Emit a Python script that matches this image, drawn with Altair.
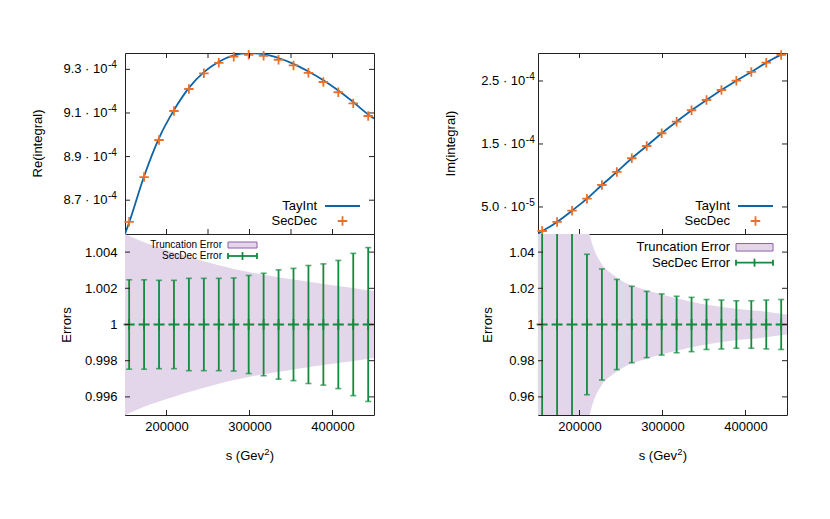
import altair as alt
import pandas as pd

# ---------------- data ----------------
s_points = [155000, 173000, 191000, 209000, 227000, 245000, 263000, 281000, 299000,
            317000, 335000, 353000, 371000, 389000, 407000, 425000, 443000]
re_secdec = [8.601e-4, 8.806e-4, 8.976e-4, 9.109e-4, 9.210e-4, 9.282e-4, 9.330e-4, 9.358e-4, 9.367e-4,
             9.362e-4, 9.344e-4, 9.318e-4, 9.284e-4, 9.242e-4, 9.195e-4, 9.144e-4, 9.086e-4]
im_secdec = [0.119e-4, 0.262e-4, 0.441e-4, 0.632e-4, 0.849e-4, 1.056e-4, 1.273e-4, 1.468e-4, 1.670e-4,
             1.854e-4, 2.035e-4, 2.198e-4, 2.357e-4, 2.505e-4, 2.643e-4, 2.790e-4, 2.913e-4]

s_line = [150000, 155000, 173000, 191000, 209000, 227000, 245000, 263000, 281000, 299000,
          317000, 335000, 353000, 371000, 389000, 407000, 425000, 443000, 450000]
re_tayint = [8.545e-4, 8.598e-4, 8.810e-4, 8.985e-4, 9.113e-4, 9.215e-4, 9.287e-4, 9.335e-4, 9.364e-4, 9.374e-4,
             9.370e-4, 9.352e-4, 9.325e-4, 9.290e-4, 9.250e-4, 9.203e-4, 9.150e-4, 9.093e-4, 9.075e-4]
im_tayint = [0.075e-4, 0.115e-4, 0.262e-4, 0.441e-4, 0.632e-4, 0.849e-4, 1.056e-4, 1.273e-4, 1.468e-4, 1.670e-4,
             1.854e-4, 2.035e-4, 2.198e-4, 2.357e-4, 2.505e-4, 2.643e-4, 2.790e-4, 2.913e-4, 2.944e-4]

err_re_secdec = [0.00247, 0.00247, 0.00244, 0.00244, 0.00255, 0.00255, 0.00255, 0.00257, 0.00271,
                 0.00283, 0.00302, 0.00310, 0.00326, 0.00335, 0.00354, 0.00393, 0.00425]
err_im_secdec = [0.150, 0.100, 0.070, 0.0388, 0.0307, 0.0249, 0.0211, 0.0183, 0.0169,
                 0.0156, 0.0150, 0.0138, 0.0135, 0.0131, 0.0131, 0.0135, 0.0138]

s_band_re = [150000, 173000, 191000, 209000, 227000, 245000, 263000, 281000, 299000,
             317000, 335000, 353000, 371000, 389000, 407000, 425000, 443000, 450000]
trunc_re = [0.00500, 0.00454, 0.00425, 0.00399, 0.00373, 0.00349, 0.00327, 0.00307, 0.00290,
            0.00275, 0.00261, 0.00248, 0.00236, 0.00224, 0.00213, 0.00202, 0.00189, 0.00185]
s_band_im = [150000, 190000, 205000, 212000, 218000, 226000, 242000, 258000, 280000,
             299000, 320000, 339000, 360000, 379000, 400000, 419000, 435000, 450000]
trunc_im = [0.300, 0.100, 0.065, 0.050, 0.041, 0.034, 0.027, 0.0225, 0.019,
            0.0166, 0.0142, 0.0122, 0.0105, 0.0092, 0.0082, 0.0074, 0.0064, 0.0055]

x_ticks = [200000, 300000, 400000]
x_ticks_re_top = [200000, 250000, 300000, 350000, 400000]
re_ticks = [8.7e-4, 8.9e-4, 9.1e-4, 9.3e-4]
im_ticks = [5.0e-5, 1.5e-4, 2.5e-4]
err_re_ticks = [0.996, 0.998, 1.0, 1.002, 1.004]
err_im_ticks = [0.96, 0.98, 1.0, 1.02, 1.04]

legend_top = ["TayInt", "SecDec"]
legend_bottom = ["Truncation Error", "SecDec Error"]
y_titles = ["Re(integral)", "Im(integral)", "Errors"]
x_title_parts = ["s (Gev", "2", ")"]

# ---------------- style ----------------
W, H = 249, 181
TICK = 5
FONT = "Liberation Sans"
BLUE = "#0e64a6"
ORANGE = "#e8702a"
GREEN = "#138a3e"
BAND = "#e3d5ea"
BAND_EDGE = "#9060a8"
FRAME = "#222222"
PLUS = "M-1,0L1,0M0,-1L0,1"

x_dom = [150000, 450000]
xscale = alt.Scale(domain=x_dom, nice=False, zero=False)


def tick_layers(xticks, yticks, yscale, yaxis, xaxis, top=True):
    dx = pd.DataFrame({"v": xticks})
    dy = pd.DataFrame({"v": yticks})
    xs = alt.X("v:Q", scale=xscale, axis=xaxis)
    ys = alt.Y("v:Q", scale=yscale, axis=yaxis)
    layers = [
        alt.Chart(dy).mark_rule(color=FRAME, strokeWidth=1).encode(y=ys, x=alt.value(0), x2=alt.value(TICK)),
        alt.Chart(dy).mark_rule(color=FRAME, strokeWidth=1).encode(y=ys, x=alt.value(W), x2=alt.value(W - TICK)),
        alt.Chart(dx).mark_rule(color=FRAME, strokeWidth=1).encode(x=xs, y=alt.value(H), y2=alt.value(H - TICK)),
    ]
    if top:
        layers.append(alt.Chart(dx).mark_rule(color=FRAME, strokeWidth=1).encode(x=xs, y=alt.value(0), y2=alt.value(TICK)))
    return layers


def label(text, x, y, size, align="right", angle=0, dy=0):
    return alt.Chart(pd.DataFrame({"t": [text]})).mark_text(
        align=align, baseline="middle", font=FONT, fontSize=size, color="black", angle=angle, dy=dy
    ).encode(x=alt.value(x), y=alt.value(y), text="t:N")


def one():
    return alt.Chart(pd.DataFrame({"k": [0]}))


def top_panel(tay, sec, ydom, yticks, ytitle, exp_of, exp_x, xt):
    yscale = alt.Scale(domain=ydom, nice=False, zero=False)
    yaxis = None
    dl = pd.DataFrame({"s": s_line, "v": tay})
    dp = pd.DataFrame({"s": s_points, "v": sec})
    line = alt.Chart(dl).mark_line(color=BLUE, strokeWidth=1.8, interpolate="monotone", clip=True).encode(
        x=alt.X("s:Q", scale=xscale, axis=None), y=alt.Y("v:Q", scale=yscale, axis=yaxis))
    pts = alt.Chart(dp).mark_point(shape=PLUS, size=90, strokeWidth=1.8, color=ORANGE, filled=False, opacity=1).encode(
        x=alt.X("s:Q", scale=xscale, axis=None), y=alt.Y("v:Q", scale=yscale, axis=yaxis))
    # tick labels "m · 10^e" with a raised exponent
    dt = pd.DataFrame({"v": yticks})
    dt["e"] = dt["v"].map(exp_of)
    dt["base"] = [f"{v / 10.0 ** e:.1f} · 10" for v, e in zip(dt["v"], dt["e"])]
    dt["exp"] = dt["e"].map(lambda e: f"{e}")
    base = alt.Chart(dt).mark_text(align="right", baseline="middle", font=FONT, fontSize=13, color="black").encode(
        y=alt.Y("v:Q", scale=yscale, axis=yaxis), x=alt.value(exp_x), text="base:N")
    expo = alt.Chart(dt).mark_text(align="left", baseline="middle", font=FONT, fontSize=10, color="black", dy=-4).encode(
        y=alt.Y("v:Q", scale=yscale, axis=yaxis), x=alt.value(exp_x + 0.5), text="exp:N")
    title = label(ytitle, -87, H / 2, 13, align="center", angle=270)
    lx = 192
    leg = [
        label(legend_top[0], lx, 153, 13),
        label(legend_top[1], lx, 168, 13),
        one().mark_rule(color=BLUE, strokeWidth=1.8).encode(x=alt.value(lx + 8), x2=alt.value(lx + 43), y=alt.value(153)),
        one().mark_point(shape=PLUS, size=90, strokeWidth=1.8, color=ORANGE, filled=False, opacity=1).encode(
            x=alt.value(lx + 25.5), y=alt.value(168)),
    ]
    layers = [line, pts] + tick_layers(xt, yticks, yscale, yaxis, None) + [base, expo, title] + leg
    return alt.layer(*layers).properties(width=W, height=H)


def bottom_panel(err, sband, trunc, ydom, yticks, tpad, lpad, lx, fsize, rows, box):
    yscale = alt.Scale(domain=ydom, nice=False, zero=False)
    yaxis = alt.Axis(values=yticks, format="~g", ticks=False, domain=False, grid=False,
                     title=y_titles[2], titlePadding=tpad, labelPadding=lpad)
    xaxis = alt.Axis(values=x_ticks, format="d", ticks=False, domain=False, grid=False,
                     title=None, labelPadding=5)
    db = pd.DataFrame({"s": sband, "t": trunc})
    db["lo"] = 1 - db["t"]
    db["hi"] = 1 + db["t"]
    de = pd.DataFrame({"s": s_points, "e": err})
    de["lo"] = 1 - de["e"]
    de["hi"] = 1 + de["e"]
    de["c"] = 1.0
    X = alt.X("s:Q", scale=xscale, axis=xaxis)
    band = alt.Chart(db).mark_area(color=BAND, opacity=1, interpolate="monotone", clip=True).encode(
        x=X, y=alt.Y("lo:Q", scale=yscale, axis=yaxis), y2="hi:Q")
    bars = alt.Chart(de).mark_rule(color=GREEN, strokeWidth=1.8, clip=True).encode(
        x=X, y=alt.Y("lo:Q", scale=yscale, axis=yaxis), y2="hi:Q")
    cap_lo = alt.Chart(de).mark_tick(color=GREEN, orient="horizontal", size=6, thickness=1.6, clip=True).encode(
        x=X, y=alt.Y("lo:Q", scale=yscale, axis=yaxis))
    cap_hi = alt.Chart(de).mark_tick(color=GREEN, orient="horizontal", size=6, thickness=1.6, clip=True).encode(
        x=X, y=alt.Y("hi:Q", scale=yscale, axis=yaxis))
    ctr = alt.Chart(de).mark_point(shape=PLUS, size=121, strokeWidth=1.8, color=GREEN, filled=False, opacity=1).encode(
        x=X, y=alt.Y("c:Q", scale=yscale, axis=yaxis))
    # x-axis title with a real superscript
    xt_y = H + 41
    xt = [
        label(x_title_parts[0], W / 2 + 14.5, xt_y, 13, align="right"),
        label(x_title_parts[1], W / 2 + 14.8, xt_y, 9.5, align="left", dy=-4),
        label(x_title_parts[2], W / 2 + 20.2, xt_y, 13, align="left"),
    ]
    r1, r2 = rows
    x0, x1 = lx + 6, lx + 6 + box[1]
    leg = [
        label(legend_bottom[0], lx, r1, fsize),
        label(legend_bottom[1], lx, r2, fsize),
        one().mark_rect(fill=BAND, stroke=BAND_EDGE, strokeWidth=1).encode(
            x=alt.value(x0), x2=alt.value(x1), y=alt.value(r1 - box[0] / 2), y2=alt.value(r1 + box[0] / 2)),
        one().mark_rule(color=GREEN, strokeWidth=1.8).encode(x=alt.value(x0), x2=alt.value(x1), y=alt.value(r2)),
        one().mark_rule(color=GREEN, strokeWidth=1.8).encode(x=alt.value(x0), y=alt.value(r2 - 3), y2=alt.value(r2 + 3)),
        one().mark_rule(color=GREEN, strokeWidth=1.8).encode(x=alt.value(x1), y=alt.value(r2 - 3), y2=alt.value(r2 + 3)),
        one().mark_rule(color=GREEN, strokeWidth=1.8).encode(x=alt.value((x0 + x1) / 2), y=alt.value(r2 - 4), y2=alt.value(r2 + 4)),
    ]
    layers = [band, bars, cap_lo, cap_hi, ctr] + tick_layers(x_ticks, yticks, yscale, yaxis, xaxis, top=False) + xt + leg
    return alt.layer(*layers).properties(width=W, height=H)


tl = top_panel(re_tayint, re_secdec, [8.545e-4, 9.375e-4], re_ticks, y_titles[0], lambda v: -4, -17.5, x_ticks_re_top)
tr = top_panel(im_tayint, im_secdec, [0.071e-4, 2.944e-4], im_ticks, y_titles[1],
               lambda v: -5 if v < 1e-4 else -4, -12.7, x_ticks)
bl = bottom_panel(err_re_secdec, s_band_re, trunc_re, [0.995, 1.005], err_re_ticks, 11, 8, 97, 10, (11, 22), (6, 29))
br = bottom_panel(err_im_secdec, s_band_im, trunc_im, [0.95, 1.05], err_im_ticks, 14, 4, 192, 13, (13.3, 28.7), (7.5, 37))

left = alt.vconcat(tl, bl, spacing=0, bounds="flush")
right = alt.vconcat(tr, br, spacing=0, bounds="flush")

chart = alt.hconcat(left, right, spacing=66).properties(
    padding={"left": 23, "top": 37, "right": 5, "bottom": 5}
).configure_view(
    stroke=FRAME, strokeWidth=1
).configure_axis(
    labelFont=FONT, titleFont=FONT, labelFontSize=13, titleFontSize=13,
    titleFontWeight="normal", labelColor="black", titleColor="black"
).configure_concat(spacing=0)

chart.save("out.html", embed_options={"renderer": "svg", "actions": False})
